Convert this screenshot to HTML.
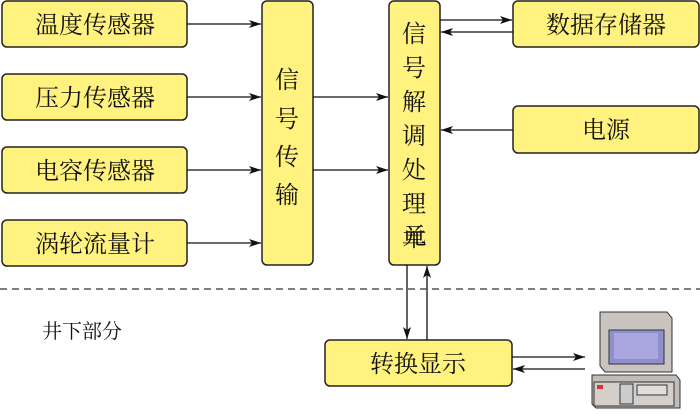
<!DOCTYPE html>
<html><head><meta charset="utf-8"><style>
html,body{margin:0;padding:0;background:#fff;width:700px;height:414px;overflow:hidden}
text{font-family:"Liberation Serif","Noto Serif CJK SC","Noto Sans CJK SC",serif;fill:#111}
</style></head><body>
<svg width="700" height="414" viewBox="0 0 700 414" xmlns="http://www.w3.org/2000/svg">
<defs><marker id="a" markerWidth="12" markerHeight="8" refX="12" refY="4" orient="auto" markerUnits="userSpaceOnUse"><path d="M0,0 L12,4 L0,8 L3,4 Z" fill="#111"/></marker></defs>
<g fill="#fff27f" stroke="#222" stroke-width="1.5">
<rect x="2" y="1" width="185" height="46" rx="5"/>
<rect x="2" y="74" width="185" height="46" rx="5"/>
<rect x="2" y="147" width="185" height="46" rx="5"/>
<rect x="2" y="220" width="185" height="46" rx="5"/>
<rect x="262" y="1" width="51" height="264" rx="5"/>
<rect x="389" y="1" width="51" height="264" rx="5"/>
<rect x="513" y="1" width="186" height="46" rx="5"/>
<rect x="513" y="106" width="186" height="47" rx="5"/>
<rect x="325" y="340" width="187" height="46" rx="5"/>
</g>
<g font-size="24" text-anchor="middle">
<text x="95" y="33">温度传感器</text>
<text x="95" y="106">压力传感器</text>
<text x="95" y="179">电容传感器</text>
<text x="95" y="252">涡轮流量计</text>
<text x="606" y="33">数据存储器</text>
<text x="606" y="138">电源</text>
<text x="418" y="372">转换显示</text>
<text x="287" y="88">信</text><text x="287" y="127">号</text><text x="287" y="165">传</text><text x="287" y="203">输</text>
<text x="414" y="42">信</text><text x="414" y="76">号</text><text x="414" y="110">解</text><text x="414" y="144">调</text><text x="414" y="178">处</text><text x="414" y="212">理</text><text x="414" y="246">单</text><text x="414" y="280" style="display:none"></text>
</g>
<g font-size="24" text-anchor="middle"><text x="414" y="246" style="display:none"></text></g>
<text x="414" y="246" font-size="24" text-anchor="middle" style="display:none"></text>
<g font-size="24" text-anchor="middle"><text x="414" y="252" style="display:none"></text></g>
<text x="42" y="338" font-size="20">井下部分</text>
<g stroke="#111" stroke-width="1.3" fill="none">
<line x1="187" y1="24" x2="261" y2="24" marker-end="url(#a)"/>
<line x1="187" y1="97" x2="261" y2="97" marker-end="url(#a)"/>
<line x1="187" y1="170" x2="261" y2="170" marker-end="url(#a)"/>
<line x1="187" y1="243" x2="261" y2="243" marker-end="url(#a)"/>
<line x1="313" y1="97" x2="388" y2="97" marker-end="url(#a)"/>
<line x1="313" y1="170" x2="388" y2="170" marker-end="url(#a)"/>
<line x1="440" y1="20" x2="512" y2="20" marker-end="url(#a)"/>
<line x1="513" y1="32" x2="441" y2="32" marker-end="url(#a)"/>
<line x1="513" y1="130" x2="441" y2="130" marker-end="url(#a)"/>
<line x1="407" y1="265" x2="407" y2="339" marker-end="url(#a)"/>
<line x1="427" y1="340" x2="427" y2="266" marker-end="url(#a)"/>
<line x1="512" y1="357" x2="585" y2="357" marker-end="url(#a)"/>
<line x1="585" y1="369" x2="513" y2="369" marker-end="url(#a)"/>
<line x1="0" y1="289" x2="700" y2="289" stroke="#555" stroke-dasharray="7,5" stroke-width="1.5"/>
</g>
<!-- computer -->
<g stroke="#333" stroke-width="1">
<path d="M600 312 L667 312 L672 318 L672 372 L605 372 L600 366 Z" fill="#c9c4bf"/>
<rect x="609" y="330" width="55" height="34" fill="#8f8fce"/>
<rect x="614" y="333" width="44" height="26" fill="#a9a6e0" stroke="none"/>
<path d="M592 375 L676 375 L680 380 L680 408 L596 408 L592 404 Z" fill="#c2bcb7"/>
<rect x="594" y="382" width="80" height="24" fill="#d4cfca"/>
<rect x="597" y="385" width="6" height="4" fill="#d33" stroke="none"/>
<rect x="637" y="385" width="30" height="10" fill="#ddd"/>
<rect x="620" y="384" width="13" height="20" fill="#ccc"/>
</g>
</svg>
<style>svg text[style*="none"]{display:none}</style>
<div style="position:absolute;left:0;top:0"></div>
<svg width="0" height="0"></svg>
<script></script>
<div style="position:absolute;left:389px;top:224px;width:51px;text-align:center;font:24px 'Liberation Serif','Noto Serif CJK SC',serif;color:#111;line-height:26px">元</div>
</body></html>
